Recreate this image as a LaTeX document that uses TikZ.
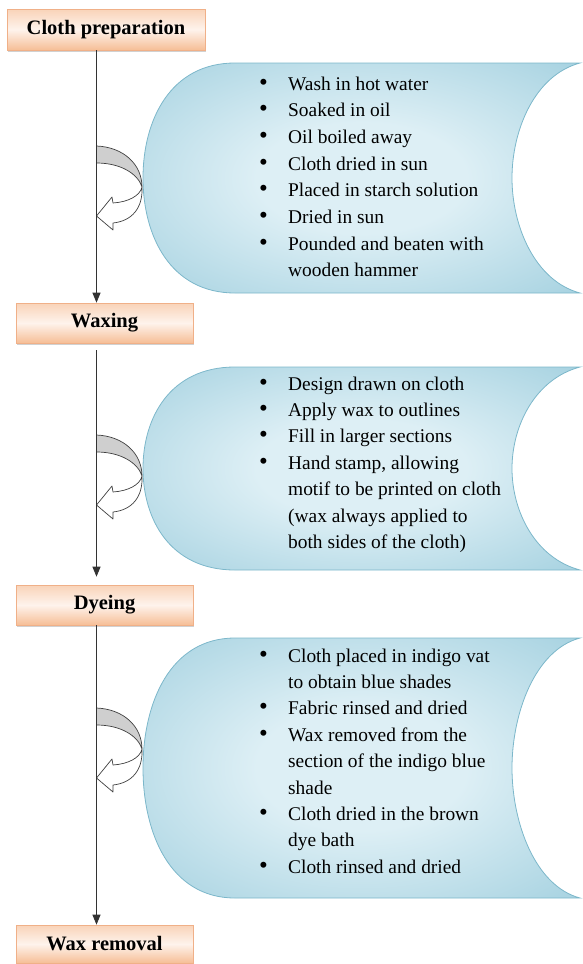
\documentclass[tikz,border=0pt]{standalone}
\usepackage{fontspec}
\setmainfont{Liberation Serif}
\usetikzlibrary{arrows.meta,shadows}
\definecolor{peachTop}{HTML}{F9D3B8}
\definecolor{peachMid}{HTML}{FEF3EC}
\definecolor{peachLow}{HTML}{F6BE96}
\definecolor{peachLine}{HTML}{F0B088}
\definecolor{blobIn}{HTML}{DDEFF5}
\definecolor{blobOut}{HTML}{8AC3D6}
\definecolor{blobLine}{HTML}{7CB7CA}
\definecolor{turnGray}{HTML}{CFCFCF}
\pgfdeclareradialshading{blobshade}{\pgfpoint{0bp}{0bp}}{color(0bp)=(blobIn); color(12bp)=(blobIn); color(48bp)=(blobOut)}

% blue panel behind a list of steps: top, bottom
\newcommand\blob[2]{%
  \pgfmathsetmacro\bmid{(#1+#2)/2}
  \pgfmathsetmacro\bqa{#1+0.25*(#2-#1)}
  \pgfmathsetmacro\bqb{#2-0.25*(#2-#1)}
  \pgfmathsetmacro\bra{\bmid-0.21*(#2-#1)}
  \pgfmathsetmacro\brb{\bmid+0.21*(#2-#1)}
  \shade[shading=blobshade, draw=blobLine, line width=0.8pt]
    (235,#1) -- (580,#1)
    .. controls (535,#1+12) and (512,\bra) .. (512,\bmid)
    .. controls (512,\brb) and (535,#2-12) .. (580,#2)
    -- (235,#2)
    .. controls (170,#2) and (143,\bqb) .. (143,\bmid)
    .. controls (143,\bqa) and (170,#1) .. (235,#1) -- cycle;
}
% curved turn arrow beside the spine: top of the band
\newcommand\turn[1]{%
  \begin{scope}[shift={(0,#1)}, draw=black!75, line width=0.7pt, line join=round]
    \filldraw[fill=turnGray] (96.5,0) .. controls (123,1) and (142,18) .. (142,41)
      .. controls (138,28) and (121,17) .. (96.5,17) -- cycle;
    \filldraw[fill=white] (142,41) .. controls (140,50) and (128,56) .. (113,57)
      -- (112,51) -- (96.5,70) -- (113,84) -- (113,77)
      .. controls (132,75) and (143,62) .. (142,41) -- cycle;
  \end{scope}
}
% bullet list of steps
\newenvironment{steplist}{\begin{tabular}[t]{@{}p{29pt}@{}p{280pt}@{}}}{\end{tabular}}
\newcommand\stepdot{{\fontsize{25}{25}\selectfont\textbullet}}

\begin{document}
\begin{tikzpicture}[x=1pt, y=-1pt,
  stage/.style={draw=peachLine, line width=0.6pt, top color=peachTop, bottom color=peachLow,
    middle color=peachMid, minimum width=177pt, minimum height=40pt, inner sep=0pt,
    font=\bfseries\fontsize{20.5}{24}\selectfont,
    drop shadow={shadow xshift=1pt, shadow yshift=-2pt, fill=black!40, opacity=0.45}},
  steps/.style={anchor=base west, inner sep=0pt, font=\fontsize{19.4}{26.4}\selectfont},
  flow/.style={-{Triangle[length=10pt,width=8pt]}, line width=1pt, black!80}]
  \useasboundingbox (0,0) rectangle (583,964);

  % panels
  \blob{63}{293}
  \blob{367}{570}
  \blob{638}{898}

  % turn arrows
  \turn{146}
  \turn{435}
  \turn{708}

  % stages
  \node[stage, minimum width=198pt, minimum height=41pt] (cloth) at (106,29.5) {Cloth preparation};
  \node[stage] (wax) at (104.5,323) {Waxing};
  \node[stage] (dye) at (104.5,605) {Dyeing};
  \node[stage, minimum height=38pt] (waxoff) at (104.5,944) {Wax removal};

  \coordinate (spine) at (96.5,0);
  \draw[flow] (cloth.south -| spine) -- (wax.north -| spine);
  \draw[flow, shorten <=7pt, shorten >=8pt] (wax.south -| spine) -- (dye.north -| spine);
  \draw[flow] (dye.south -| spine) -- (waxoff.north -| spine);

  % step lists
  \node[steps, font=\fontsize{19.4}{26.7}\selectfont] (prepsteps) at (259,90) {\begin{steplist}
    \stepdot & Wash in hot water\\
    \stepdot & Soaked in oil\\
    \stepdot & Oil boiled away\\
    \stepdot & Cloth dried in sun\\
    \stepdot & Placed in starch solution\\
    \stepdot & Dried in sun\\
    \stepdot & Pounded and beaten with\newline wooden hammer
  \end{steplist}};
  \node[steps] (waxsteps) at (259,390) {\begin{steplist}
    \stepdot & Design drawn on cloth\\
    \stepdot & Apply wax to outlines\\
    \stepdot & Fill in larger sections\\
    \stepdot & Hand stamp, allowing\newline motif to be printed on cloth\newline
      (wax always applied to\newline both sides of the cloth)
  \end{steplist}};
  \node[steps] (dyesteps) at (259,662) {\begin{steplist}
    \stepdot & Cloth placed in indigo vat\newline to obtain blue shades\\
    \stepdot & Fabric rinsed and dried\\
    \stepdot & Wax removed from the\newline section of the indigo blue\newline shade\\
    \stepdot & Cloth dried in the brown\newline dye bath\\
    \stepdot & Cloth rinsed and dried
  \end{steplist}};
\end{tikzpicture}
\end{document}
